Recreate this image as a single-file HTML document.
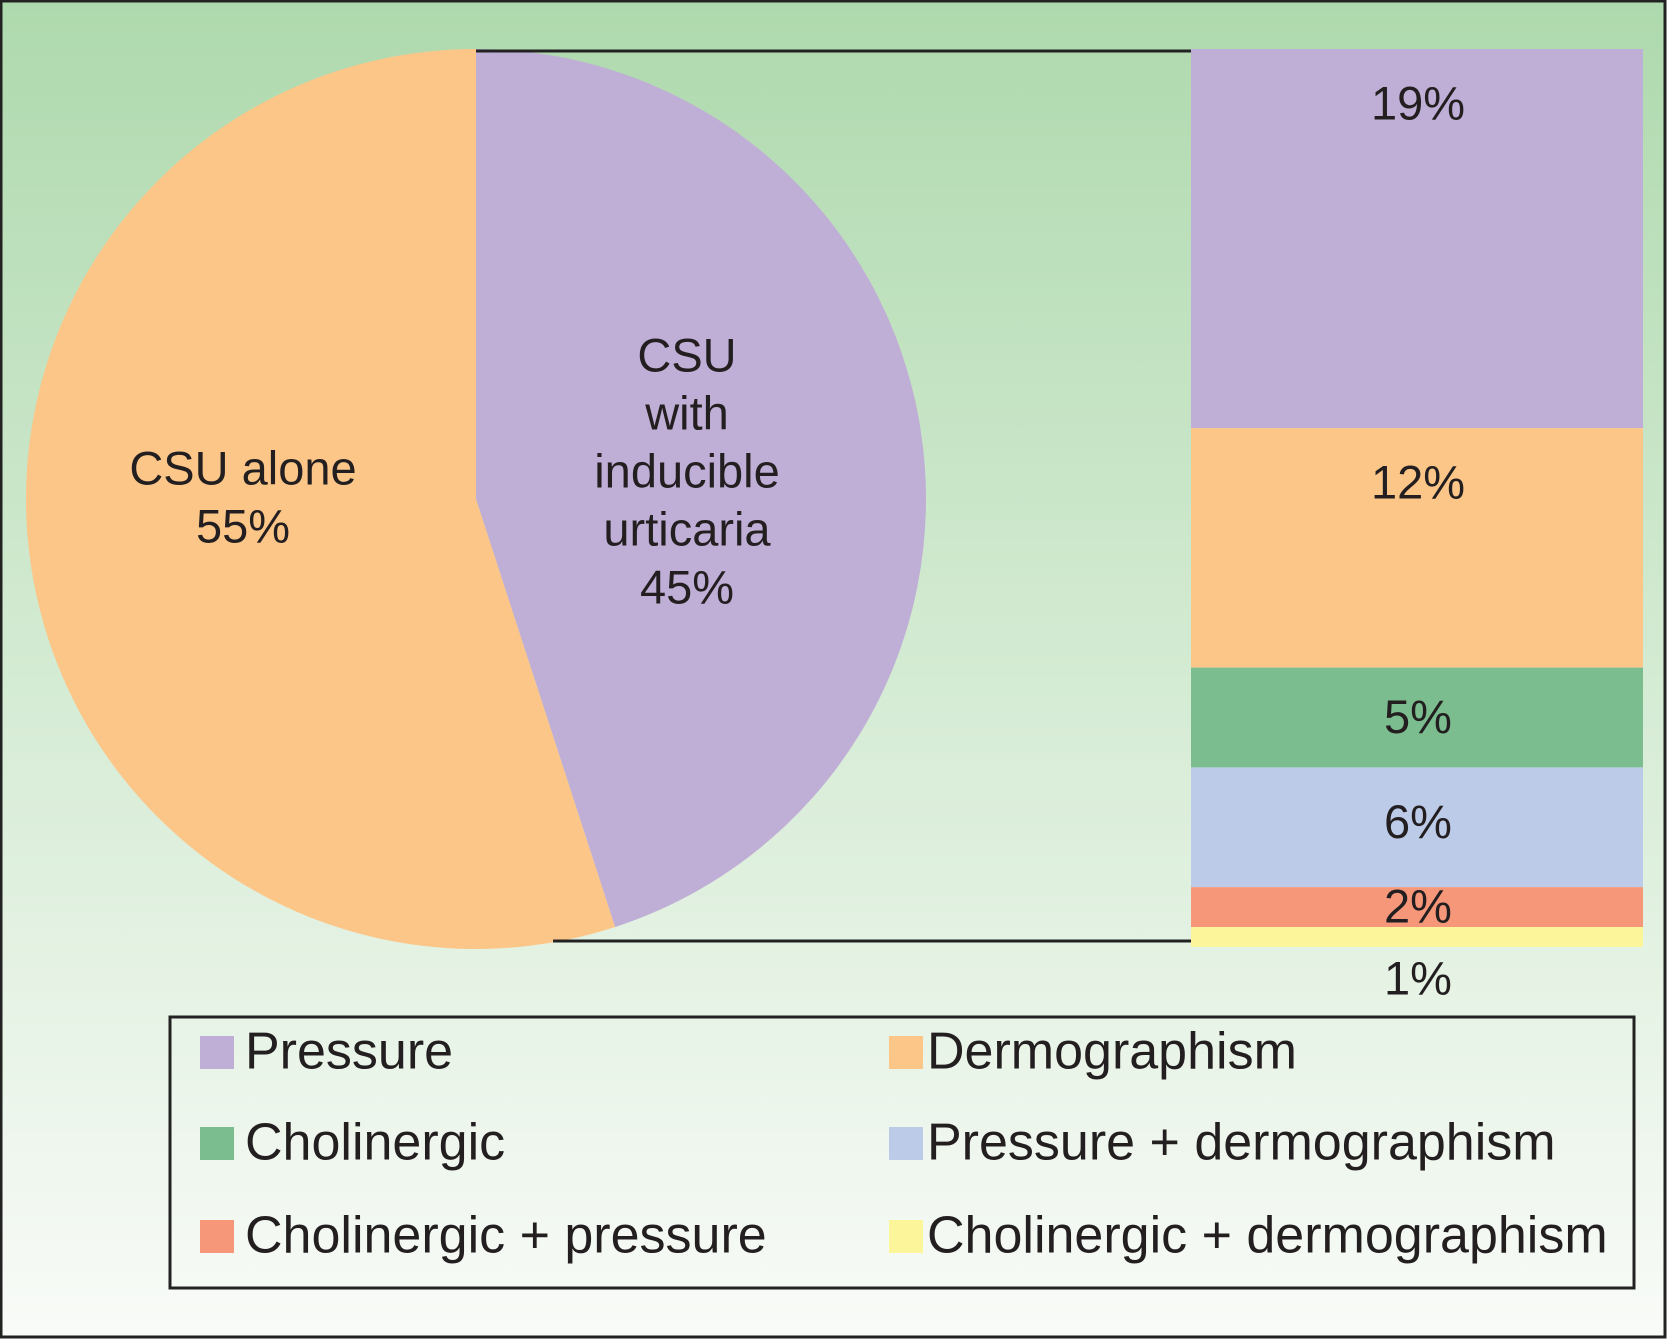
<!DOCTYPE html>
<html><head><meta charset="utf-8"><style>
html,body{margin:0;padding:0;background:#fff}
svg{display:block;font-family:"Liberation Sans",Arial,sans-serif}
</style></head><body>
<svg id="chart" width="1667" height="1339" viewBox="0 0 1667 1339">
<defs><linearGradient id="bg" x1="0" y1="0" x2="0" y2="1">
<stop offset="0" stop-color="#aed9ad"/><stop offset="0.5" stop-color="#d4ebd3"/><stop offset="1" stop-color="#f9fbf8"/></linearGradient></defs>
<rect x="1" y="1" width="1664" height="1336" fill="url(#bg)" stroke="#222" stroke-width="3"/>
<g id="pie"></g>
<g id="bar"></g>
<g id="legend"></g>
</svg>
<script>
const pieCats = ["CSU with inducible urticaria","CSU alone"];
const pieValues = [45,55];
const pieColors = ["#bfaed5","#fcc688"];
const barCats = ["Pressure","Dermographism","Cholinergic","Pressure + dermographism","Cholinergic + pressure","Cholinergic + dermographism"];
const barValues = [19,12,5,6,2,1];
const barLabels = ["19%","12%","5%","6%","2%","1%"];
const barColors = ["#bfaed5","#fcc688","#7bbd8e","#bccbe8","#f7977a","#fdf59a"];
const NS="http://www.w3.org/2000/svg";
function mk(tag,attrs,parent){const e=document.createElementNS(NS,tag);for(const k in attrs)e.setAttribute(k,attrs[k]);parent.appendChild(e);return e;}
const cx=476, cy=499, r=450;
const pie=document.getElementById('pie');
const tot=pieValues.reduce((a,b)=>a+b,0);
let a0=-Math.PI/2;
const pt=a=>[cx+r*Math.cos(a),cy+r*Math.sin(a)];
let endPurple;
pieValues.forEach((v,i)=>{
  const a1=a0+v/tot*2*Math.PI;
  const p0=pt(a0),p1=pt(a1);
  const large=(a1-a0)>Math.PI?1:0;
  const s=mk('path',{d:`M${cx},${cy} L${p0[0]},${p0[1]} A${r},${r} 0 ${large} 1 ${p1[0]},${p1[1]} Z`,fill:pieColors[i]},pie);
  
  
  if(i===0) endPurple=p1;
  a0=a1;
});
const bar=document.getElementById('bar');
const bx=1191,bw=452,by=49,bh=898;
const btot=barValues.reduce((a,b)=>a+b,0);
const ys=v=>v/btot*bh;
const l1=mk('line',{x1:cx,y1:by+2,x2:bx,y2:by+2,stroke:"#222","stroke-width":3},pie);

const l2=mk('line',{x1:endPurple[0]-62,y1:by+bh-6,x2:bx,y2:by+bh-6,stroke:"#222","stroke-width":3},pie);

let yc=by;
barValues.forEach((v,i)=>{
  const h=ys(v);
  const rc=mk('rect',{x:bx,y:yc,width:bw,height:h,fill:barColors[i]},bar);
  
  
  let ty = i===barValues.length-1 ? yc+h+35 : Math.min(yc+58, yc+h/2+3);
  const t=mk('text',{x:bx+bw/2+1,y:ty,"font-size":47,"text-anchor":"middle","dominant-baseline":"middle",fill:"#231f20"},bar);
  t.textContent=barLabels[i];
  
  
  yc+=h;
});
function lines(arr,x,y0,dy,name){arr.forEach((s,k)=>{const t=mk('text',{x:x,y:y0+k*dy,"font-size":47,"text-anchor":"middle","dominant-baseline":"middle",fill:"#231f20"},pie);t.textContent=s;});}
lines(["CSU alone",pieValues[1]+"%"],243,472,58,'pie-label-alone');
lines(["CSU","with","inducible","urticaria",pieValues[0]+"%"],687,359,58,'pie-label-inducible');
const lg=document.getElementById('legend');
const box=mk('rect',{x:170,y:1017,width:1464,height:271,fill:"none",stroke:"#222","stroke-width":3},lg);

const rowsY=[1053,1144,1237], colX=[200,889];
barCats.forEach((c,i)=>{
  const col=i%2,row=Math.floor(i/2);
  const sw=mk('rect',{x:colX[col],y:rowsY[row]-17,width:34,height:33,fill:barColors[i]},lg);
  
  const t=mk('text',{x:colX[col]+(col?38:45),y:rowsY[row]+2,"font-size":52,"dominant-baseline":"middle",fill:"#231f20"},lg);
  t.textContent=c;
  
});
</script>
</body></html>
